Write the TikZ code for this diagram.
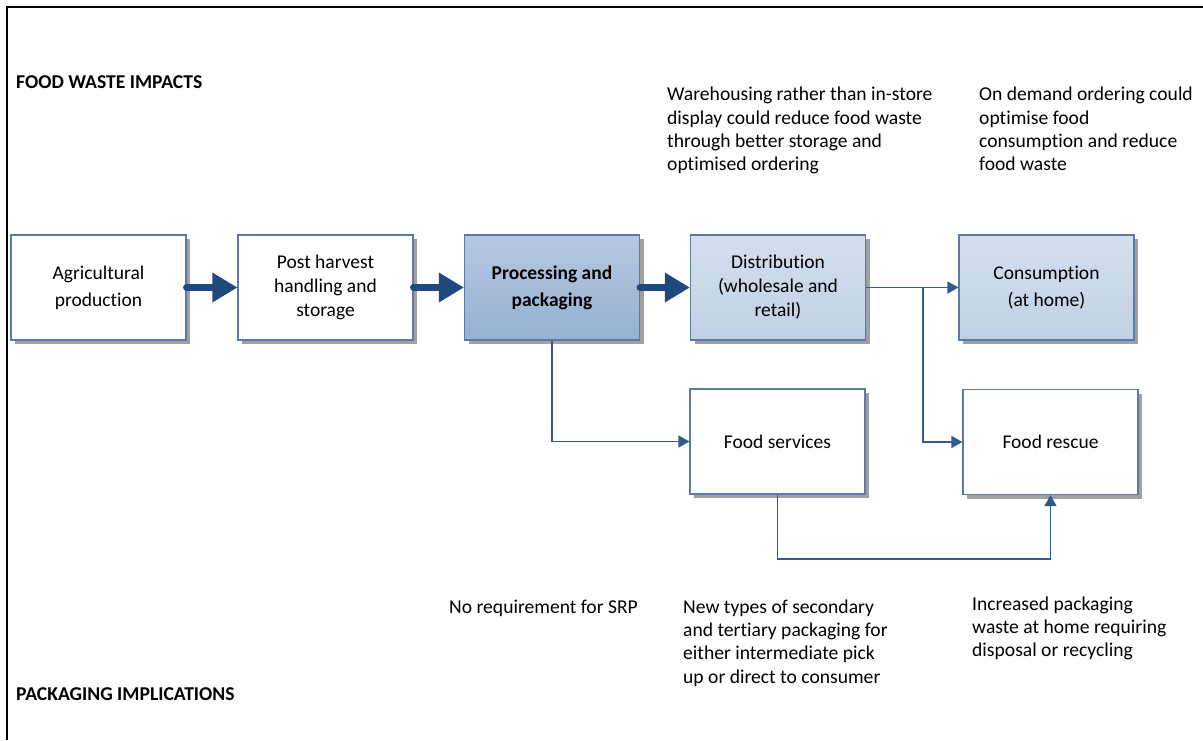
\documentclass[tikz,border=0pt]{standalone}
\usepackage{fontspec}
\setmainfont{Carlito}[Ligatures=NoCommon]
\usetikzlibrary{arrows.meta,shadows}
\definecolor{boxline}{HTML}{5A7AA8}
\definecolor{darkblue}{HTML}{1F497D}
\definecolor{thinblue}{HTML}{34598C}
\definecolor{procTop}{HTML}{B5C8E0}
\definecolor{procBot}{HTML}{96B0D2}
\definecolor{distTop}{HTML}{D4DFEC}
\definecolor{distBot}{HTML}{C0D0E4}
\definecolor{shadowgray}{HTML}{A0A0A0}
\tikzset{
  stagebox/.style={draw=boxline, line width=1.1pt, fill=white,
    minimum width=175pt, minimum height=105pt, inner sep=2pt,
    align=center, font=\fontsize{19.5}{27}\selectfont,
    drop shadow={shadow xshift=4pt, shadow yshift=-4pt, fill=shadowgray, opacity=1}},
  threeline/.style={font=\fontsize{19.5}{24}\selectfont},
  procbox/.style={stagebox, top color=procTop, bottom color=procBot},
  distbox/.style={stagebox, top color=distTop, bottom color=distBot},
  bigarrow/.style={draw=darkblue, line width=7pt, line cap=round,
    -{Triangle[length=25pt,width=28pt]}},
  thinarrow/.style={draw=thinblue, line width=1.2pt,
    -{Triangle[length=11pt,width=12pt]}},
  note/.style={anchor=base west, inner sep=0pt, align=left,
    font=\fontsize{19.6}{23.3}\selectfont},
  heading/.style={anchor=base west, inner sep=0pt,
    font=\fontsize{19.6}{23.3}\selectfont\bfseries}
}
\begin{document}
\begin{tikzpicture}[x=1pt,y=-1pt]
\useasboundingbox (0,0) rectangle (1203,740);
% frame
\draw[line width=2pt] (7,740) -- (7,7) -- (1203,7);

% headings
\node[heading] (hfw) at (16,88.3) {FOOD WASTE IMPACTS};
\node[heading] (hpi) at (16,700) {PACKAGING IMPLICATIONS};

% notes (base anchor = baseline of the last line)
\node[note] (n1) at (667,170.6) {Warehousing rather than in-store\\display could reduce food waste\\through better storage and\\optimised ordering};
\node[note] (n2) at (979,170.6) {On demand ordering could\\optimise food\\consumption and reduce\\food waste};
\node[note] (n3) at (449,613.3) {No requirement for SRP};
\node[note] (n4) at (683,683.2) {New types of secondary\\and tertiary packaging for\\either intermediate pick\\up or direct to consumer};
\node[note] (n5) at (972,656.6) {Increased packaging\\waste at home requiring\\disposal or recycling};

% boxes
\node[stagebox] (agri) at (98.5,287.5) {Agricultural\\production};
\node[stagebox, threeline] (post) at (325.5,287.5) {Post harvest\\handling and\\storage};
\node[procbox] (proc) at (552,287.5) {\bfseries Processing and\\\bfseries packaging};
\node[distbox, threeline] (dist) at (778,287.5) {Distribution\\(wholesale and\\retail)};
\node[distbox] (cons) at (1046.5,287.5) {Consumption\\(at home)};
\node[stagebox] (fserv) at (777.5,441.5) {Food services};
\node[stagebox] (rescue) at (1050.5,442) {Food rescue};

% thick arrows
\draw[bigarrow] (agri.east) -- (post.west);
\draw[bigarrow] (post.east) -- (proc.west);
\draw[bigarrow] (proc.east) -- (dist.west);

% thin connectors
\coordinate (j) at (923,287.5);
\draw[thinarrow] (dist.east) -- (cons.west);
\draw[thinarrow] (j) |- (rescue.west);
\draw[thinarrow] (proc.south) |- (fserv.west);
\coordinate (lowturn) at (777.5,559);
\draw[thinarrow] (fserv.south) -- (lowturn) -| (rescue.south);
\end{tikzpicture}
\end{document}
